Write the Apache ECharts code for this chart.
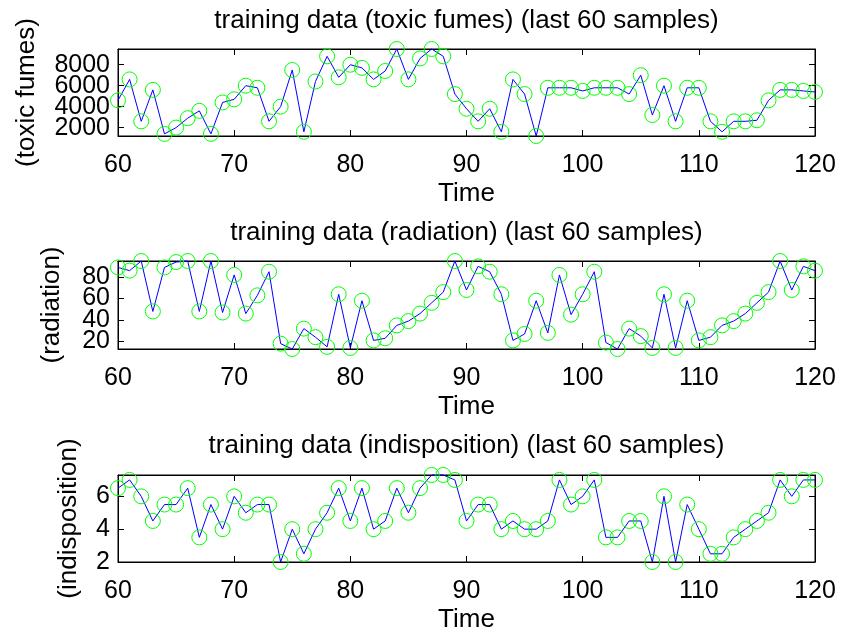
<!DOCTYPE html>
<html>
<head>
<meta charset="utf-8">
<script src="https://cdn.jsdelivr.net/npm/echarts@6/dist/echarts.min.js"></script>
<style>
  html, body { margin: 0; padding: 0; background: #fff; }
  #chart { width: 841px; height: 635px; }
</style>
</head>
<body>
<div id="chart"></div>
<script>
// time index of the last 60 samples
var timeSteps = [60, 61, 62, 63, 64, 65, 66, 67, 68, 69,
  70, 71, 72, 73, 74, 75, 76, 77, 78, 79,
  80, 81, 82, 83, 84, 85, 86, 87, 88, 89,
  90, 91, 92, 93, 94, 95, 96, 97, 98, 99,
  100, 101, 102, 103, 104, 105, 106, 107, 108, 109,
  110, 111, 112, 113, 114, 115, 116, 117, 118, 119, 120];

var toxicFumes = [4600, 6600, 2600, 5600, 1400, 2000, 2900, 3600, 1400, 4400,
  4700, 6000, 5800, 2600, 4000, 7500, 1600, 6400, 8800, 6800,
  8000, 7700, 6600, 7400, 9500, 6600, 8600, 9500, 8800, 5200,
  3800, 2600, 3800, 1600, 6600, 5200, 1200, 5800, 5800, 5800,
  5500, 5800, 5800, 5800, 5200, 7000, 3200, 6000, 2600, 5800,
  5800, 2600, 1600, 2600, 2600, 2700, 4600, 5600, 5600, 5500, 5400];

var radiation = [89, 86, 95, 48, 89, 94, 95, 48, 95, 47,
  82, 46, 63, 85, 18, 13, 32, 24, 15, 64,
  14, 58, 21, 23, 35, 39, 46, 56, 66, 95,
  68, 90, 85, 64, 21, 27, 58, 28, 82, 45,
  64, 85, 19, 13, 32, 25, 14, 64, 14, 58,
  21, 24, 35, 39, 46, 56, 66, 95, 68, 90, 86];

var indisposition = [6.5, 7, 6, 4.5, 5.5, 5.5, 6.5, 3.5, 5.5, 4,
  6, 5, 5.5, 5.5, 2, 4, 2.5, 4, 5, 6.5,
  4.5, 6.5, 4, 4.5, 6.5, 5, 6.5, 7.3, 7.3, 7,
  4.5, 5.5, 5.5, 4, 4.5, 4, 4, 4.5, 7, 5.5,
  6, 7, 3.5, 3.5, 4.5, 4.5, 2, 6, 2, 5.5,
  4, 2.5, 2.5, 3.5, 4, 4.5, 5, 7, 6, 7, 7];

var toxicTicks = [2000, 4000, 6000, 8000];
var radiationTicks = [20, 40, 60, 80];
var indispositionTicks = [2, 4, 6];

var font = 'Liberation Sans, Arial, sans-serif';

var panels = [
  { label: 'toxic fumes', values: toxicFumes, ticks: toxicTicks, min: 1200, max: 9500,
    top: 49, height: 87, titleTop: 8, nameGap: 78 },
  { label: 'radiation', values: radiation, ticks: radiationTicks, min: 13, max: 95,
    top: 261, height: 88, titleTop: 220, nameGap: 53 },
  { label: 'indisposition', values: indisposition, ticks: indispositionTicks, min: 2, max: 7.3,
    top: 475, height: 87, titleTop: 433, nameGap: 36 }
];

var titles = [], grids = [], xAxes = [], yAxes = [], series = [];

panels.forEach(function (p, i) {
  titles.push({
    text: 'training data (' + p.label + ') (last 60 samples)',
    left: 466.5, top: p.titleTop, textAlign: 'center', padding: 0,
    textStyle: { fontFamily: font, fontSize: 26, fontWeight: 'normal', color: '#000' }
  });
  grids.push({
    left: 118, width: 697, top: p.top, height: p.height,
    show: true, borderColor: '#000', borderWidth: 1, backgroundColor: '#fff'
  });

  var lineOpt = { show: true, lineStyle: { color: '#000', width: 1 } };
  var tickOpt = { show: true, inside: true, length: 6, lineStyle: { color: '#000', width: 1 } };
  var labelOpt = { color: '#000', fontFamily: font, fontSize: 25, margin: 8,
    showMinLabel: true, showMaxLabel: true, hideOverlap: false,
    formatter: function (v) { return String(v); } };

  // the tick labels sit closer than their font height, so they are split
  // over two overlaid axes, otherwise echarts hides every other one
  var evenTicks = p.ticks.filter(function (v, k) { return k % 2 === 0; });
  var oddTicks = p.ticks.filter(function (v, k) { return k % 2 === 1; });

  xAxes.push({
    type: 'value', gridIndex: i, position: 'bottom', min: 60, max: 120, interval: 10,
    axisLine: lineOpt, axisTick: tickOpt, splitLine: { show: false },
    axisLabel: { color: '#000', fontFamily: font, fontSize: 25, margin: 17,
      showMinLabel: true, showMaxLabel: true, hideOverlap: false },
    name: 'Time', nameLocation: 'middle', nameGap: 45,
    nameTextStyle: { color: '#000', fontFamily: font, fontSize: 26 }
  });
  xAxes.push({
    type: 'value', gridIndex: i, position: 'top', min: 60, max: 120, interval: 10,
    axisLine: lineOpt, axisTick: tickOpt, splitLine: { show: false },
    axisLabel: { show: false }
  });

  yAxes.push({
    type: 'value', gridIndex: i, position: 'left', min: p.min, max: p.max,
    axisLine: lineOpt, splitLine: { show: false },
    axisTick: Object.assign({ customValues: p.ticks }, tickOpt),
    axisLabel: Object.assign({ customValues: evenTicks }, labelOpt),
    name: '(' + p.label + ')', nameLocation: 'middle', nameRotate: 90, nameGap: p.nameGap,
    nameTextStyle: { color: '#000', fontFamily: font, fontSize: 26 }
  });
  yAxes.push({
    type: 'value', gridIndex: i, position: 'left', min: p.min, max: p.max,
    axisLine: { show: false }, axisTick: { show: false }, splitLine: { show: false },
    axisLabel: Object.assign({ customValues: oddTicks }, labelOpt)
  });
  yAxes.push({
    type: 'value', gridIndex: i, position: 'right', min: p.min, max: p.max,
    axisLine: lineOpt, splitLine: { show: false },
    axisTick: Object.assign({ customValues: p.ticks }, tickOpt),
    axisLabel: { show: false, customValues: p.ticks }
  });

  series.push({
    type: 'line',
    xAxisIndex: i * 2, yAxisIndex: i * 3,
    data: timeSteps.map(function (t, k) { return [t, p.values[k]]; }),
    symbol: 'circle', symbolSize: 15, showAllSymbol: true, clip: false,
    lineStyle: { color: '#0000ff', width: 1 },
    itemStyle: { color: 'rgba(0,0,0,0)', borderColor: '#00ff00', borderWidth: 1 },
    emphasis: { disabled: true }
  });
});

var chart = echarts.init(document.getElementById('chart'));
chart.setOption({
  animation: false,
  backgroundColor: '#fff',
  title: titles,
  grid: grids,
  xAxis: xAxes,
  yAxis: yAxes,
  series: series
});
</script>
</body>
</html>
